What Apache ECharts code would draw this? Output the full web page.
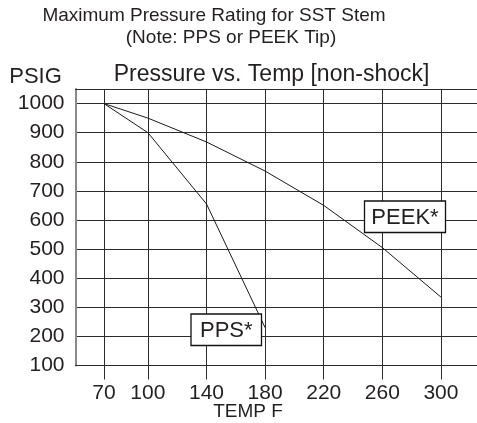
<!DOCTYPE html>
<html><head><meta charset="utf-8">
<script src="https://cdn.jsdelivr.net/npm/echarts@6/dist/echarts.min.js"></script>
<style>html,body{margin:0;padding:0;background:#fff}#c{width:477px;height:423px}</style>
</head><body><div id="c"></div>
<script>
// ---- data ----
const peekTemps = [70, 100, 140, 180, 220, 260, 300];
const peekPsig  = [1000, 950, 868, 768, 650, 505, 335];
const ppsTemps  = [70, 100, 140, 180];
const ppsPsig   = [1000, 900, 655, 230];
const xTickValues = [70, 100, 140, 180, 220, 260, 300];
const titleLine1 = 'Maximum Pressure Rating for SST Stem';
const titleLine2 = '(Note: PPS or PEEK Tip)';
const chartTitle = 'Pressure vs. Temp [non-shock]';
const yName = 'PSIG';
const xName = 'TEMP F';
const peekName = 'PEEK*';
const ppsName = 'PPS*';

// ---- chart ----
const FONT = 'Liberation Sans, Arial, Helvetica, sans-serif';
const TXT = '#231f20';
const GRID = '#2b2b2b';
const chart = echarts.init(document.getElementById('c'), null, {renderer: 'canvas'});

function pairs(xs, ys) { return xs.map((x, i) => [x, ys[i]]); }

function txt(text, x, y, size, align) {
  return {
    type: 'text', z: 100,
    style: {
      text: text, x: x, y: y, fill: TXT,
      font: size + 'px ' + FONT,
      align: align || 'center', verticalAlign: 'middle',
      textAlign: align || 'center', textVerticalAlign: 'middle'
    }
  };
}
function box(text, x, y, w, h, size) {
  return [
    {type: 'rect', z: 100, shape: {x: x, y: y, width: w, height: h},
     style: {fill: '#fff', stroke: '#111', lineWidth: 1.3}},
    {type: 'text', z: 101,
     style: {text: text, x: x + w / 2, y: y + h / 2 + 1, fill: TXT, font: size + 'px ' + FONT,
             align: 'center', verticalAlign: 'middle', textAlign: 'center', textVerticalAlign: 'middle'}}
  ];
}

const option = {
  animation: false,
  backgroundColor: '#fff',
  grid: {left: 75.5, right: 0, top: 89, bottom: 57.5, containLabel: false},
  xAxis: [{
    type: 'value', min: 50.6, max: 324.6,
    axisLine: {show: true, lineStyle: {color: GRID, width: 1}},
    axisTick: {show: true, length: 14, inside: false, customValues: xTickValues,
               lineStyle: {color: GRID, width: 1}},
    axisLabel: {show: true, customValues: xTickValues, margin: 17, fontSize: 21,
                fontFamily: FONT, color: TXT},
    splitLine: {show: true, lineStyle: {color: GRID, width: 1}}
  }, {
    type: 'value', position: 'top', min: 50.6, max: 324.6,
    axisLine: {show: true, onZero: false, lineStyle: {color: GRID, width: 1}},
    axisTick: {show: false}, axisLabel: {show: false}, splitLine: {show: false}
  }],
  yAxis: {
    type: 'value', min: 100, max: 1050, interval: 100,
    axisLine: {show: true, lineStyle: {color: '#8a8a8a', width: 2}},
    axisTick: {show: false},
    axisLabel: {margin: 11, fontSize: 21, fontFamily: FONT, color: TXT,
                formatter: v => (v > 1000 ? '' : String(v))},
    splitLine: {show: true, lineStyle: {color: GRID, width: 1}}
  },
  series: [{
    name: peekName, type: 'line', data: pairs(peekTemps, peekPsig),
    showSymbol: false, symbol: 'none',
    lineStyle: {color: '#1a1a1a', width: 1}, z: 5
  }, {
    name: ppsName, type: 'line', data: pairs(ppsTemps, ppsPsig),
    showSymbol: false, symbol: 'none',
    lineStyle: {color: '#1a1a1a', width: 1}, z: 5
  }],
  graphic: [
    txt(titleLine1, 214, 16, 19),
    txt(titleLine2, 231, 38, 19),
    txt(chartTitle, 271.5, 75, 23),
    txt(yName, 35.5, 77, 22),
    txt(xName, 248, 412, 19)
  ].concat(box(peekName, 364.5, 201, 81, 31.5, 22))
   .concat(box(ppsName, 191, 314, 70.5, 31.5, 22))
};
chart.setOption(option);
</script>
</body></html>
